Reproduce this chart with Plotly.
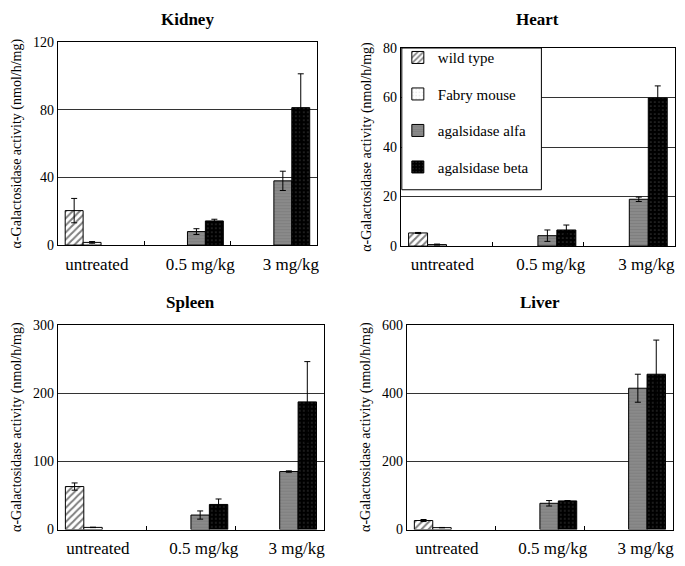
import plotly.graph_objects as go

categories = ["untreated", "0.5 mg/kg", "3 mg/kg"]
tick_text = ["untreated\u00a0\u00a0", "\u00a0\u00a0\u00a0\u00a0\u00a0\u00a00.5 mg/kg", "\u00a0\u00a0\u00a0\u00a0\u00a0\u00a0\u00a0\u00a03 mg/kg"]
series_names = ["wild type", "Fabry mouse", "agalsidase alfa", "agalsidase beta"]

# values per organ: [wild type, Fabry, alfa, beta] per category
kidney_wt = [20.4, None, None]
kidney_fabry = [1.6, None, None]
kidney_alfa = [None, 8.0, 38.0]
kidney_beta = [None, 14.3, 81.3]
kidney_wt_err = [7.2, None, None]
kidney_fabry_err = [0.5, None, None]
kidney_alfa_err = [None, 1.7, 5.7]
kidney_beta_err = [None, 1.0, 20.0]

heart_wt = [5.3, None, None]
heart_fabry = [0.6, None, None]
heart_alfa = [None, 4.2, 18.9]
heart_beta = [None, 6.5, 59.8]
heart_wt_err = [0.2, None, None]
heart_fabry_err = [0.2, None, None]
heart_alfa_err = [None, 2.3, 0.9]
heart_beta_err = [None, 2.0, 4.9]

spleen_wt = [63.0, None, None]
spleen_fabry = [3.2, None, None]
spleen_alfa = [None, 21.3, 85.0]
spleen_beta = [None, 36.8, 187.0]
spleen_wt_err = [5.3, None, None]
spleen_fabry_err = [0.3, None, None]
spleen_alfa_err = [None, 6.0, 1.0]
spleen_beta_err = [None, 8.0, 59.0]

liver_wt = [26.5, None, None]
liver_fabry = [5.7, None, None]
liver_alfa = [None, 77.0, 414.0]
liver_beta = [None, 84.0, 455.0]
liver_wt_err = [3.0, None, None]
liver_fabry_err = [0.5, None, None]
liver_alfa_err = [None, 8.0, 41.0]
liver_beta_err = [None, 1.0, 100.0]

organs = [
    ("Kidney", [kidney_wt, kidney_fabry, kidney_alfa, kidney_beta],
     [kidney_wt_err, kidney_fabry_err, kidney_alfa_err, kidney_beta_err], 120, 40),
    ("Heart", [heart_wt, heart_fabry, heart_alfa, heart_beta],
     [heart_wt_err, heart_fabry_err, heart_alfa_err, heart_beta_err], 80, 20),
    ("Spleen", [spleen_wt, spleen_fabry, spleen_alfa, spleen_beta],
     [spleen_wt_err, spleen_fabry_err, spleen_alfa_err, spleen_beta_err], 300, 100),
    ("Liver", [liver_wt, liver_fabry, liver_alfa, liver_beta],
     [liver_wt_err, liver_fabry_err, liver_alfa_err, liver_beta_err], 600, 200),
]

# page has an 8px body margin; figure drawn at offset (8, 8)
OFF = 8
W, H = 685 - 2 * OFF, 566 - 2 * OFF


def px(x):
    return (x - OFF) / W


def py(y):
    return 1 - (y - OFF) / H


# plot areas in page pixels: (left, top, right, bottom)
boxes = [(58, 36, 318, 245), (402, 42, 677, 246), (58, 327, 325, 538), (408, 327, 675, 538)]
title_y = [13, 13, 304, 304]

styles = [
    dict(color="white", line=dict(color="black", width=1),
         pattern=dict(shape="/", fgcolor="black", bgcolor="white", size=5, solidity=0.4)),
    dict(color="white", line=dict(color="black", width=1),
         pattern=dict(shape=".", fgcolor="#bbbbbb", bgcolor="white", size=4, solidity=0.15)),
    dict(color="#808080", line=dict(color="black", width=1),
         pattern=dict(shape="-", fgcolor="#707070", bgcolor="#8a8a8a", size=3, solidity=0.3)),
    dict(color="black", line=dict(color="black", width=1),
         pattern=dict(shape=".", fgcolor="#6a6a6a", bgcolor="black", size=4, solidity=0.15)),
]

FONT = "Liberation Serif"
fig = go.Figure()
annotations = []
layout = {}
for i, (name, vals, errs, ymax, dt) in enumerate(organs):
    sfx = "" if i == 0 else str(i + 1)
    l, t, r, b = boxes[i]
    for j in range(4):
        fig.add_trace(go.Bar(
            x=categories, y=vals[j], name=series_names[j],
            marker=styles[j],
            error_y=dict(type="data", array=errs[j], visible=True, color="black", thickness=1, width=3),
            xaxis="x" + sfx, yaxis="y" + sfx,
            legendgroup=series_names[j], showlegend=(i == 0),
        ))
    layout["xaxis" + sfx] = dict(
        domain=[px(l), px(r)], anchor="y" + sfx,
        categoryorder="array", categoryarray=categories,
        tickvals=categories, ticktext=tick_text, tickangle=0,
        showline=True, linecolor="black", linewidth=1, mirror=True,
        ticks="inside", tickson="boundaries", ticklen=4, tickcolor="black",
        tickfont=dict(family=FONT, size=17, color="black"),
        ticklabelstandoff=3,
        showgrid=False,
    )
    layout["yaxis" + sfx] = dict(
        domain=[py(b), py(t)], anchor="x" + sfx,
        range=[0, ymax], dtick=dt,
        showline=True, linecolor="black", linewidth=1, mirror=True,
        showgrid=True, gridcolor="#333333", gridwidth=1,
        ticks="", tickfont=dict(family=FONT, size=14, color="black"),
        zeroline=False,
        title=dict(text="α-Galactosidase activity (nmol/h/mg)",
                   font=dict(family=FONT, size=14, color="black"), standoff=8),
    )
    annotations.append(dict(
        text="<b>" + name + "</b>", x=(px(l) + px(r)) / 2, y=py(title_y[i]),
        xref="paper", yref="paper", xanchor="center", yanchor="middle", showarrow=False,
        font=dict(family=FONT, size=17, color="black"),
    ))

fig.update_layout(
    width=W, height=H, margin=dict(l=0, r=0, t=0, b=0),
    paper_bgcolor="white", plot_bgcolor="white",
    font=dict(family=FONT, color="black"),
    barmode="group", bargap=0.17, bargroupgap=0,
    annotations=annotations,
    shapes=[dict(type="rect", xref="paper", yref="paper", layer="above",
                 x0=px(403), x1=px(543), y0=py(188), y1=py(42),
                 fillcolor="white", line=dict(color="black", width=1))],
    legend=dict(x=px(399), y=py(35), xanchor="left", yanchor="top",
                bgcolor="rgba(0,0,0,0)", borderwidth=0,
                font=dict(family=FONT, size=15, color="black"),
                tracegroupgap=14, itemwidth=30),
    **layout,
)
fig.write_html("out.html")
